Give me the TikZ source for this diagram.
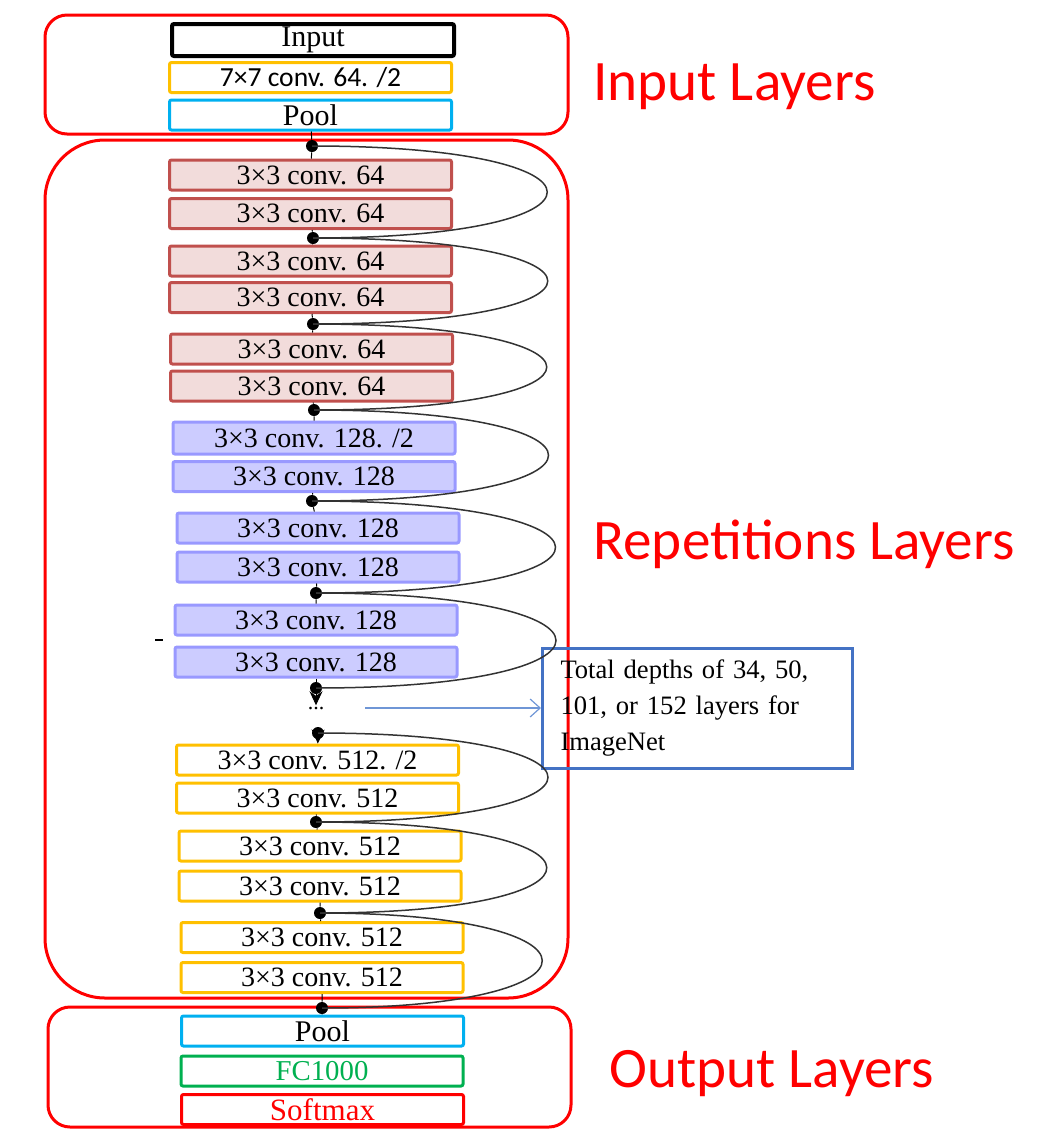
\documentclass[tikz,border=0pt]{standalone}
\usepackage{fontspec}
\setmainfont{Liberation Serif}
\newfontfamily\calibrifont{Carlito}
\usetikzlibrary{arrows.meta}
\definecolor{grpred}{HTML}{FF0000}
\definecolor{convorange}{HTML}{FFC000}
\definecolor{poolcyan}{HTML}{00B0F0}
\definecolor{fcgreen}{HTML}{00B050}
\definecolor{resred}{HTML}{C0504D}
\definecolor{respink}{HTML}{F2DCDB}
\definecolor{resblue}{HTML}{9999FF}
\definecolor{resblueFill}{HTML}{CCCCFF}
\definecolor{noteblue}{HTML}{4472C4}
\definecolor{arrowblue}{HTML}{6F96D6}
\begin{document}
\begin{tikzpicture}[x=0.5pt,y=-0.5pt]
        \tikzstyle{layer}=[draw,line width=1.5pt,rounded corners=1pt,fill=white,minimum width=141pt,minimum height=15pt,inner sep=0pt,font=\fontsize{14}{14}\selectfont]
        \tikzstyle{conv64}=[layer,draw=resred,fill=respink]
        \tikzstyle{conv128}=[layer,draw=resblue,fill=resblueFill]
        \tikzstyle{conv512}=[layer,draw=convorange]
        \tikzstyle{pool}=[layer,draw=poolcyan,font=\fontsize{15}{15}\selectfont]
        \tikzstyle{joint}=[circle,fill=black,inner sep=0pt,minimum size=6pt]
        \tikzstyle{chain}=[draw,line width=0.5pt,black]
        \tikzstyle{skip}=[draw,line width=0.75pt,black!80]
        \tikzstyle{group}=[draw=grpred,line width=1.5pt]
        \tikzstyle{grouplabel}=[anchor=west,inner sep=0pt,text=grpred,font=\fontsize{28.6}{30}\calibrifont]
        \useasboundingbox (0,0) rectangle (1042,1142);
        % groups
        \draw[group,rounded corners=11pt] (45,15) rectangle (568,134);
        \draw[group,rounded corners=30pt] (45,140) rectangle (568,998);
        \draw[group,rounded corners=11pt] (48,1007) rectangle (571,1127);
        \node [grouplabel] (inlab) at (593,87) {Input Layers};
        \node [grouplabel] (replab) at (593,544) {Repetitions Layers};
        \node [grouplabel] (outlab) at (609,1074) {Output Layers};
        % input layers
        \node [layer,line width=2pt,minimum height=16pt,font=\fontsize{15}{15}\selectfont] (in) at (313,40) {Input};
        \node [layer,draw=convorange,font=\fontsize{13.8}{14}\calibrifont] (c7) at (310.5,77.5) {7×7 conv. 64. /2};
        \node [pool] (pool1) at (310.5,115) {Pool};
        % repetitions
        \node [joint] (d0) at (312,146) {};
        \node [conv64] (b1) at (310.5,175) {3×3 conv. 64};
        \node [conv64] (b2) at (310.5,213.5) {3×3 conv. 64};
        \node [joint] (d1) at (313,238) {};
        \node [conv64] (b3) at (310.5,261) {3×3 conv. 64};
        \node [conv64] (b4) at (310.5,297.5) {3×3 conv. 64};
        \node [joint] (d2) at (313,324) {};
        \node [conv64] (b5) at (311.5,349) {3×3 conv. 64};
        \node [conv64] (b6) at (311.5,386) {3×3 conv. 64};
        \node [joint] (d3) at (314,410) {};
        \node [conv128,minimum height=16pt] (b7) at (314,438) {3×3 conv. 128. /2};
        \node [conv128] (b8) at (314,476.5) {3×3 conv. 128};
        \node [joint] (d4) at (312,501) {};
        \node [conv128] (b9) at (318,528) {3×3 conv. 128};
        \node [conv128] (b10) at (318,567) {3×3 conv. 128};
        \node [joint] (d5) at (316,593) {};
        \node [conv128] (b11) at (316,620) {3×3 conv. 128};
        \node [conv128] (b12) at (316,662) {3×3 conv. 128};
        \node [joint] (d6) at (316,688) {};
        \node [inner sep=1pt,font=\fontsize{11}{11}\selectfont] (dd) at (316,709) {...};
        \node [joint] (d7) at (318,733) {};
        \node [conv512] (b13) at (317.5,760) {3×3 conv. 512. /2};
        \node [conv512] (b14) at (317.5,798) {3×3 conv. 512};
        \node [joint] (d8) at (316,822) {};
        \node [conv512] (b15) at (320,846) {3×3 conv. 512};
        \node [conv512] (b16) at (320,886) {3×3 conv. 512};
        \node [joint] (d9) at (320,913) {};
        \node [conv512] (b17) at (322,937.5) {3×3 conv. 512};
        \node [conv512] (b18) at (322,977.5) {3×3 conv. 512};
        \node [joint] (d10) at (322,1008) {};
        % output layers
        \node [pool] (pool2) at (322.5,1031) {Pool};
        \node [layer,draw=fcgreen,text=fcgreen,font=\fontsize{14.4}{15}\selectfont] (fc) at (322,1071) {FC1000};
        \node [layer,draw=grpred,text=grpred,font=\fontsize{15.5}{16}\selectfont] (sm) at (322.5,1109.5) {Softmax};
        % note
        \node [draw=noteblue,line width=1.5pt,anchor=west,text width=137pt,inner xsep=9pt,minimum height=60pt,align=left,font=\fontsize{13.3}{18}\selectfont] (depth) at (541,708) {Total depths of 34, 50,\\101, or 152 layers for\\ImageNet};
        \coordinate (notestart) at (365,708);
        \path[draw,arrowblue,line width=0.6pt,-{Straight Barb[length=5pt,width=9pt]}] (notestart) -- (depth.west);
        \draw[line width=0.8pt] (155,640) -- (163,640);
        % main chain
        \path[chain] (pool1) -- (d0) -- (b1);
        \path[chain] (b2) -- (d1) -- (b3);
        \path[chain] (b4) -- (d2) -- (b5);
        \path[chain] (b6) -- (d3) -- (b7);
        \path[chain] (b8) -- (d4) -- (b9);
        \path[chain] (b10) -- (d5) -- (b11);
        \path[chain] (b12) -- (d6);
        \path[chain,-{Stealth[length=7pt,width=6.5pt]}] (d6.center) -- (dd);
        \path[chain,-{Stealth[length=7pt,width=6.5pt]}] (d7.center) -- (b13);
        \path[chain] (b14) -- (d8) -- (b15);
        \path[chain] (b16) -- (d9) -- (b17);
        \path[chain] (b18) -- (d10) -- (pool2);
        % shortcuts
        \path[skip] (d0.center) .. controls +(313,0) and +(313,0) .. (d1.center);
        \path[skip] (d1.center) .. controls +(313,0) and +(313,0) .. (d2.center);
        \path[skip] (d2.center) .. controls +(311,0) and +(311,0) .. (d3.center);
        \path[skip] (d3.center) .. controls +(314,0) and +(314,0) .. (d4.center);
        \path[skip] (d4.center) .. controls +(322,0) and +(322,0) .. (d5.center);
        \path[skip] (d5.center) .. controls +(320,0) and +(320,0) .. (d6.center);
        \path[skip] (d7.center) .. controls +(308,0) and +(308,0) .. (d8.center);
        \path[skip] (d8.center) .. controls +(305,0) and +(305,0) .. (d9.center);
        \path[skip] (d9.center) .. controls +(295,0) and +(295,0) .. (d10.center);
\end{tikzpicture}
\end{document}
